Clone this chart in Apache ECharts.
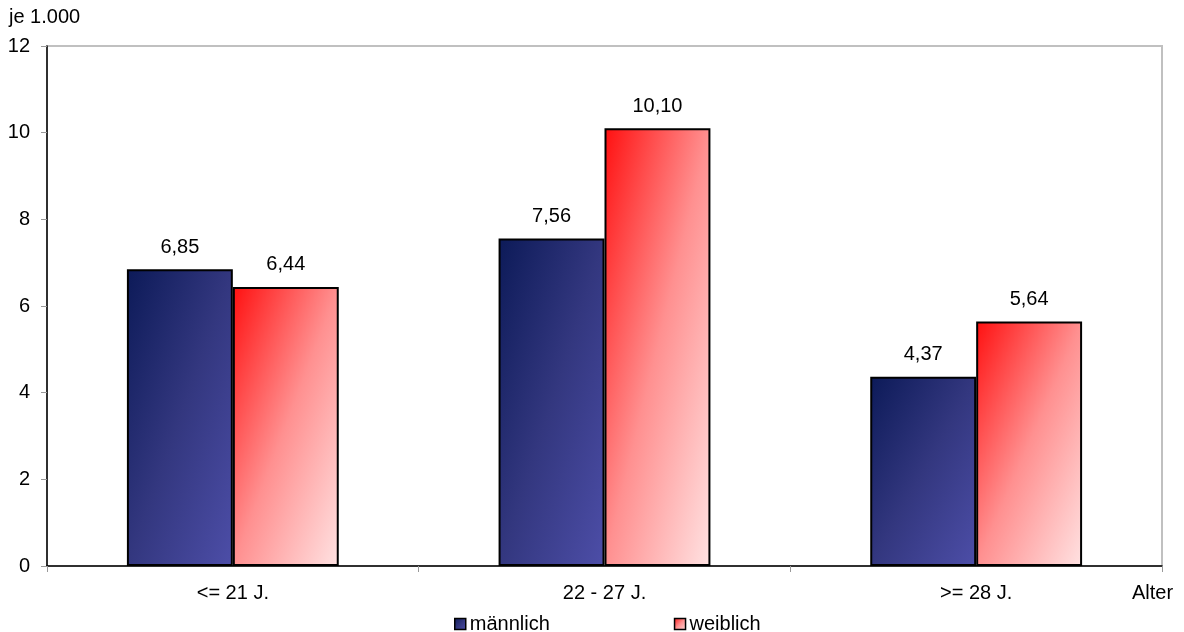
<!DOCTYPE html>
<html>
<head>
<meta charset="utf-8">
<script src="https://cdn.jsdelivr.net/npm/echarts@6/dist/echarts.min.js"></script>
<style>
  html, body { margin: 0; padding: 0; background: #fff; }
  #chart { width: 1184px; height: 632px; }
</style>
</head>
<body>
<div id="chart"></div>
<script>
// Altersgruppen und Werte je 1.000
var categories = ['<= 21 J.', '22 - 27 J.', '>= 28 J.']
var maennlich = [6.85, 7.56, 4.37]
var weiblich = [6.44, 10.10, 5.64]
var seriesNames = ['männlich', 'weiblich']

var chart = echarts.init(document.getElementById('chart'))
var font = 'Liberation Sans, Arial, sans-serif'
var blueStops = [
  { offset: 0, color: '#0c1a58' },
  { offset: 0.5, color: '#33377f' },
  { offset: 1, color: '#4d4ea8' }
]
var redStops = [
  { offset: 0, color: '#ff1010' },
  { offset: 0.5, color: '#ff9090' },
  { offset: 1, color: '#ffe2e2' }
]

function fmt (v) {
  return v.toFixed(2).replace('.', ',')
}

// diagonaler Verlauf: oben rechts und unten links gleich hell
function diag (v, stops) {
  var w = 106
  var h = Math.max(v / 12 * 520, 1)
  var d = h * h + w * w
  return new echarts.graphic.LinearGradient(0, 0, 2 * h * h / d, 2 * w * w / d, stops)
}

function items (arr, stops) {
  return arr.map(function (v) {
    return { value: v, itemStyle: { color: diag(v, stops) } }
  })
}

var label = {
  show: true,
  position: 'top',
  distance: 12,
  fontSize: 20,
  color: '#000',
  formatter: function (p) { return fmt(p.value) }
}

var option = {
  animation: false,
  textStyle: { fontFamily: font },
  grid: {
    left: 47,
    right: 22,
    top: 46,
    bottom: 66,
    show: true,
    borderColor: '#c0c0c0',
    borderWidth: 2
  },
  legend: {
    data: seriesNames,
    top: 609,
    left: 449,
    itemWidth: 11,
    itemHeight: 11,
    itemGap: 124,
    icon: 'rect',
    itemStyle: { borderColor: '#000', borderWidth: 1.5 },
    textStyle: { fontSize: 20, color: '#000', padding: [0, 0, 0, -1] }
  },
  graphic: [
    { type: 'text', left: 9, top: 7, style: { text: 'je 1.000', font: '20px ' + font, fill: '#000' } },
    { type: 'text', left: 1132, top: 583, style: { text: 'Alter', font: '20px ' + font, fill: '#000' } }
  ],
  xAxis: {
    type: 'category',
    data: categories,
    axisLine: { lineStyle: { color: '#000', width: 1.5 } },
    axisTick: { show: true, length: 6, lineStyle: { color: '#999' } },
    axisLabel: { fontSize: 20, color: '#000', margin: 17 },
    splitLine: { show: false }
  },
  yAxis: {
    type: 'value',
    min: 0,
    max: 12,
    interval: 2,
    axisLine: { show: true, lineStyle: { color: '#000', width: 1.5 } },
    axisTick: { show: true, length: 6, lineStyle: { color: '#999' } },
    axisLabel: { fontSize: 20, color: '#000', margin: 17 },
    splitLine: { show: false }
  },
  series: [
    {
      name: seriesNames[0],
      type: 'bar',
      data: items(maennlich, blueStops),
      barGap: '0%',
      barCategoryGap: '43%',
      itemStyle: {
        borderColor: '#000',
        borderWidth: 2,
        color: new echarts.graphic.LinearGradient(0, 0, 1, 1, blueStops)
      },
      label: label
    },
    {
      name: seriesNames[1],
      type: 'bar',
      data: items(weiblich, redStops),
      itemStyle: {
        borderColor: '#000',
        borderWidth: 2,
        color: new echarts.graphic.LinearGradient(0, 0, 1, 1, redStops)
      },
      label: label
    }
  ]
}
chart.setOption(option)
</script>
</body>
</html>
